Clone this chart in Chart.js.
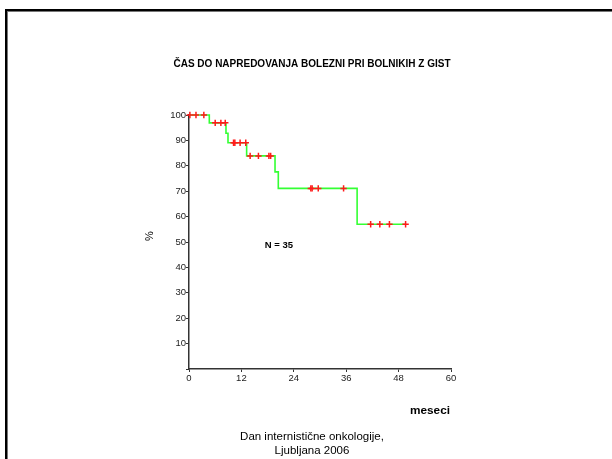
<!DOCTYPE html>
<html><head><meta charset="utf-8">
<script src="https://cdn.jsdelivr.net/npm/chart.js@4/dist/chart.umd.min.js"></script>
<style>html,body{margin:0;padding:0;background:#fff;overflow:hidden}#wrap{width:612px;height:459px;position:relative}</style>
</head><body><div id="wrap"><canvas id="c" width="612" height="459"></canvas></div>
<script>
// Kaplan-Meier steps (months, % without progression)
const stepMonths   = [0, 4.65, 8.47, 8.93, 13.2, 19.7, 20.45, 38.5, 49.6];
const stepSurvival = [100, 96.9, 92.8, 89.1, 83.9, 77.6, 71.1, 57.0, 57.0];
// censored observations
const censorMonths   = [0.2, 1.6, 3.4, 6.0, 7.3, 8.3, 10.2, 10.5, 11.7, 13.0, 14.0, 15.9, 18.3, 18.7, 27.9, 28.2, 29.6, 35.4, 41.6, 43.7, 45.9, 49.6];
const censorSurvival = [100, 100, 100, 96.9, 96.9, 96.9, 89.1, 89.1, 89.1, 89.1, 83.9, 83.9, 83.9, 83.9, 71.1, 71.1, 71.1, 71.1, 57.0, 57.0, 57.0, 57.0];
// axis ticks
const xTicks = [0, 12, 24, 36, 48, 60];
const xTickLabels = ['0', '12', '24', '36', '48', '60'];
const yTicks = [0, 10, 20, 30, 40, 50, 60, 70, 80, 90, 100];
const yTickLabels = ['', '10', '20', '30', '40', '50', '60', '70', '80', '90', '100'];

const titleText = 'ČAS DO NAPREDOVANJA BOLEZNI PRI BOLNIKIH Z GIST';
const nText = 'N = 35';
const yTitle = '%';
const xTitle = 'meseci';
const footer1 = 'Dan internistične onkologije,';
const footer2 = 'Ljubljana 2006';

const FONT = '"Liberation Sans", Arial, Helvetica, sans-serif';

const deco = {
  id: 'deco',
  beforeDraw(chart) {
    const ctx = chart.ctx;
    ctx.save();
    ctx.fillStyle = '#fff';
    ctx.fillRect(0, 0, chart.width, chart.height);
    ctx.restore();
  },
  afterDraw(chart) {
    const ctx = chart.ctx;
    ctx.save();
    ctx.fillStyle = '#000';
    ctx.textAlign = 'center';
    ctx.textBaseline = 'middle';
    ctx.font = 'bold 10px ' + FONT;
    ctx.fillText(titleText, 312, 64.5);
    ctx.font = 'bold 9.5px ' + FONT;
    ctx.fillText(nText, 279, 245);
    ctx.font = 'bold 11.8px ' + FONT;
    ctx.fillText(xTitle, 430, 411);
    ctx.font = '11.5px ' + FONT;
    ctx.fillText(footer1, 312, 437);
    ctx.fillText(footer2, 312, 451);
    ctx.save();
    ctx.translate(150, 236);
    ctx.rotate(-Math.PI / 2);
    ctx.font = '11px ' + FONT;
    ctx.fillText(yTitle, 0, 0);
    ctx.restore();
    // frame
    ctx.fillStyle = '#000';
    ctx.fillRect(5, 9, 607, 2);
    ctx.fillRect(5, 9, 2, 450);
    ctx.fillStyle = '#777';
    ctx.fillRect(7, 11, 605, 1);
    ctx.fillRect(7, 11, 1, 448);
    ctx.restore();
  }
};

new Chart(document.getElementById('c'), {
  type: 'scatter',
  data: {
    datasets: [
      {
        type: 'line',
        data: stepMonths.map((x, i) => ({x, y: stepSurvival[i]})),
        borderColor: '#33ff33',
        borderWidth: 1.6,
        stepped: 'before',
        pointRadius: 0,
        fill: false,
        clip: false,
        order: 2
      },
      {
        type: 'scatter',
        data: censorMonths.map((x, i) => ({x, y: censorSurvival[i]})),
        pointStyle: 'cross',
        pointRadius: 3.2,
        borderColor: '#ff1a1a',
        borderWidth: 1.5,
        clip: false,
        order: 1
      }
    ]
  },
  options: {
    responsive: false,
    animation: false,
    events: [],
    layout: { padding: { left: 0, top: 115, right: 161, bottom: 70 } },
    plugins: { legend: { display: false }, tooltip: { enabled: false }, title: { display: false } },
    scales: {
      x: {
        type: 'linear', min: 0, max: 60,
        afterBuildTicks: s => { s.ticks = xTicks.map(v => ({value: v})); },
        afterFit: s => { s.height = 20; },
        ticks: { callback: (v, i) => xTickLabels[i], font: { family: FONT, size: 9.5 }, color: '#222', padding: 1, maxRotation: 0 },
        grid: { display: true, drawOnChartArea: false, drawTicks: true, tickLength: 3, color: '#333', lineWidth: 1 },
        border: { display: true, color: '#333', width: 1.5 }
      },
      y: {
        type: 'linear', min: 0, max: 100,
        afterBuildTicks: s => { s.ticks = yTicks.map(v => ({value: v})); },
        afterFit: s => { s.width = 189; },
        ticks: { callback: (v, i) => yTickLabels[i], font: { family: FONT, size: 9.5 }, color: '#222', padding: 0 },
        grid: { display: true, drawOnChartArea: false, drawTicks: true, tickLength: 3, color: '#333', lineWidth: 1 },
        border: { display: true, color: '#333', width: 1.5 }
      }
    }
  },
  plugins: [deco]
});
</script>
</body></html>
